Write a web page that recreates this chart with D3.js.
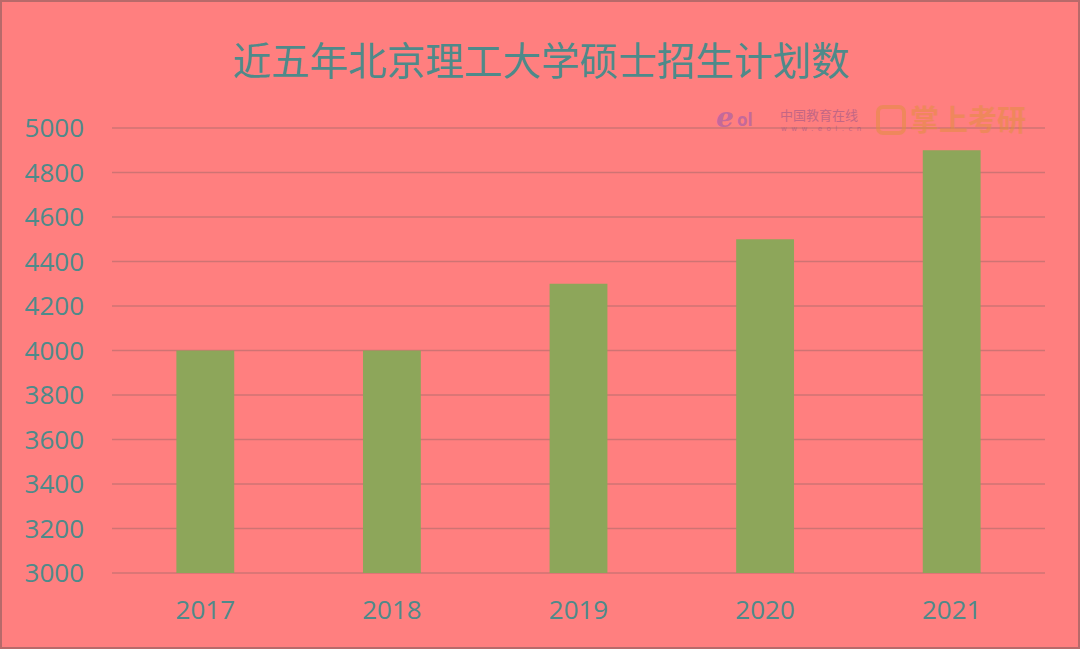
<!DOCTYPE html>
<html><head><meta charset="utf-8">
<script src="https://cdn.jsdelivr.net/npm/d3@7/dist/d3.min.js"></script>
<style>
html,body{margin:0;padding:0;background:#FF7F7F;}
svg{display:block;}
</style></head>
<body>
<script>
const title = "近五年北京理工大学硕士招生计划数";
const categories = ["2017", "2018", "2019", "2020", "2021"];
const values = [4000, 4000, 4300, 4500, 4900];
const yTicks = [3000, 3200, 3400, 3600, 3800, 4000, 4200, 4400, 4600, 4800, 5000];

const W = 1080, H = 649;
const textColor = "#4E8A8A";
const svg = d3.select("body").append("svg").attr("width", W).attr("height", H);

svg.append("rect").attr("x", 1).attr("y", 1).attr("width", W - 2).attr("height", H - 2)
  .attr("fill", "#FF7F7F").attr("stroke", "#B86A6A").attr("stroke-width", 2);

const margin = {left: 112, right: 35, top: 128, bottom: 76};
const x = d3.scaleBand().domain(categories).range([margin.left, W - margin.right])
  .paddingInner(0.69).paddingOuter(0.345);
const y = d3.scaleLinear().domain([3000, 5000]).range([H - margin.bottom, margin.top]);

// gridlines
svg.append("g").selectAll("line").data(yTicks).join("line")
  .attr("x1", margin.left).attr("x2", W - margin.right)
  .attr("y1", d => y(d)).attr("y2", d => y(d))
  .attr("stroke", "#CF7373").attr("stroke-width", 1.5);

// watermark
const wm = svg.append("g").attr("opacity", 0.5);
wm.append("text").attr("x", 716).attr("y", 127).attr("font-family", "DejaVu Serif")
  .attr("font-size", 28).attr("font-style", "italic").attr("font-weight", "bold")
  .attr("fill", "#8A55B8").text("e");
wm.append("text").attr("x", 737).attr("y", 126).attr("font-family", "Open Sans, sans-serif")
  .attr("font-size", 17).attr("font-weight", "bold").attr("fill", "#8A55B8").text("ol");
wm.append("text").attr("x", 780).attr("y", 120).attr("font-family", "Noto Sans CJK SC")
  .attr("font-size", 13).attr("fill", "#8A4F8A").text("中国教育在线");
wm.append("text").attr("x", 781).attr("y", 131).attr("font-family", "DejaVu Sans")
  .attr("font-size", 7).attr("fill", "#8A4F8A").attr("letter-spacing", 4.5).text("www.eol.cn");
wm.append("rect").attr("x", 878).attr("y", 107).attr("width", 26).attr("height", 26).attr("rx", 5)
  .attr("fill", "none").attr("stroke", "#E0903A").attr("stroke-width", 4);
wm.append("text").attr("x", 910).attr("y", 131).attr("font-family", "Noto Sans CJK SC")
  .attr("font-size", 29).attr("font-weight", "bold").attr("fill", "#E0903A").text("掌上考研");

// bars
svg.append("g").selectAll("rect").data(values).join("rect")
  .attr("x", (d, i) => x(categories[i])).attr("width", x.bandwidth())
  .attr("y", d => y(d)).attr("height", d => y(3000) - y(d))
  .attr("fill", "#8DA65A");

// y labels
svg.append("g").selectAll("text").data(yTicks).join("text")
  .attr("x", 84).attr("y", d => y(d)).attr("dy", "0.36em").attr("text-anchor", "end")
  .attr("font-family", "Open Sans, sans-serif").attr("font-size", 26).attr("fill", textColor)
  .text(d => d);

// x labels
svg.append("g").selectAll("text").data(categories).join("text")
  .attr("x", d => x(d) + x.bandwidth() / 2).attr("y", 610).attr("dy", "0.36em")
  .attr("text-anchor", "middle").attr("font-family", "Open Sans, sans-serif")
  .attr("font-size", 26).attr("fill", textColor).text(d => d);

// title
svg.append("text").attr("x", 541).attr("y", 61).attr("dy", "0.36em").attr("text-anchor", "middle")
  .attr("font-family", "Noto Sans CJK SC").attr("font-size", 38.6).attr("fill", textColor)
  .text(title);
</script>
</body></html>
